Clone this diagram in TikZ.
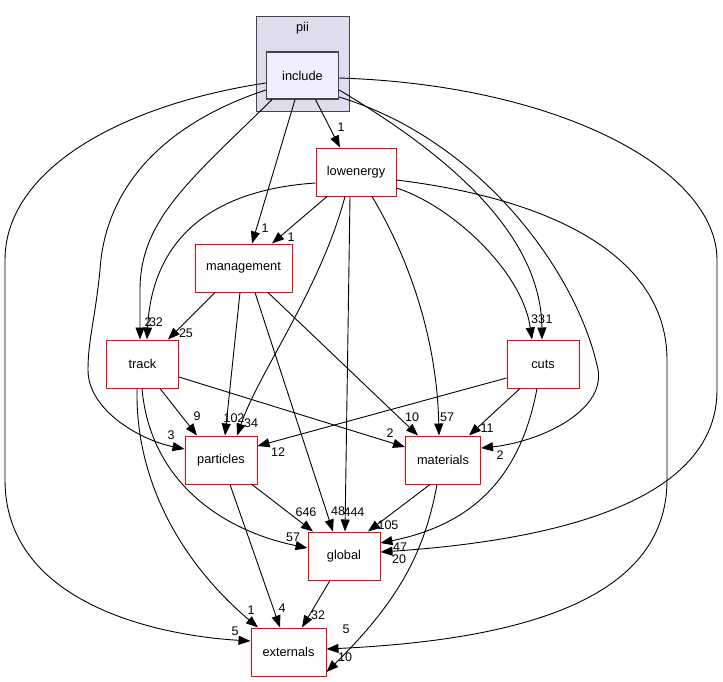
\documentclass[tikz,border=0pt]{standalone}
\usepackage{fontspec}
\setmainfont{Liberation Sans}
\usetikzlibrary{arrows.meta}
\definecolor{clusterfill}{HTML}{DDDDEE}
\definecolor{incfill}{HTML}{EEEEFF}
\definecolor{darkborder}{HTML}{444444}
\tikzset{
  dirnode/.style={draw=red, line width=1pt, fill=white, inner sep=0pt, minimum height=48pt, font=\fontsize{12.8}{15}\selectfont},
  dep/.style={draw=black, line width=0.9pt, -{Triangle[length=12pt,width=9pt]}},
  lbl/.style={inner sep=0pt, font=\fontsize{12.5}{14}\selectfont},
}
\begin{document}
\begin{tikzpicture}[x=1pt,y=-1pt]
\useasboundingbox[fill=white] (0,0) rectangle (723,681);
% cluster
\node[draw=darkborder, fill=clusterfill, line width=1pt, minimum width=93pt, minimum height=95pt, inner sep=0pt] (pii) at (302.5,63.5) {};
\node[font=\fontsize{12.8}{15}\selectfont, inner sep=0pt] (piilabel) at (302.5,28) {pii};
\node[draw=darkborder, fill=incfill, line width=1.3pt, minimum width=72pt, minimum height=47pt, inner sep=0pt, font=\fontsize{12.8}{15}\selectfont] (include) at (302.5,75.5) {include};
% nodes
\node[dirnode, minimum width=80pt] (lowenergy) at (356,172) {lowenergy};
\node[dirnode, minimum width=97pt] (management) at (243.5,268) {management};
\node[dirnode, minimum width=72pt] (track) at (142.5,364) {track};
\node[dirnode, minimum width=72pt] (cuts) at (543,364) {cuts};
\node[dirnode, minimum width=72pt] (particles) at (221,460) {particles};
\node[dirnode, minimum width=75pt] (materials) at (443,460) {materials};
\node[dirnode, minimum width=72pt] (global) at (344,556) {global};
\node[dirnode, minimum width=75pt] (externals) at (288.5,652) {externals};
% edges
\draw[dep] ([xshift=13pt]include.south) -- ([xshift=-16pt]lowenergy.north);
\draw[dep] ([xshift=-7.5pt]include.south) -- ([xshift=8.5pt]management.north);
\draw[dep] ([xshift=-29pt]lowenergy.south) -- ([xshift=28.5pt]management.north);
\draw[dep] ([xshift=-30.5pt]include.south) .. controls (190,180) and (140,220) .. (140,290) -- ([xshift=-2.5pt]track.north);
\draw[dep] ([yshift=-11pt]lowenergy.west) .. controls (210,190) and (152,240) .. ([xshift=4.5pt]track.north);
\draw[dep] ([yshift=-14.5pt]include.west) .. controls (160,125) and (105,190) .. (100,270) .. controls (95,320) and (88,340) .. (88,370) .. controls (88,410) and (140,440) .. ([yshift=11pt]particles.west);
\draw[dep] ([yshift=-7.5pt]include.west) .. controls (120,105) and (5,170) .. (5,260) -- (5,480) .. controls (5,600) and (150,635) .. ([yshift=11pt]externals.west);
\draw[dep] ([yshift=-14.5pt]include.east) .. controls (440,150) and (541,230) .. ([xshift=-1pt]cuts.north);
\draw[dep] ([yshift=-16pt]lowenergy.east) .. controls (450,205) and (522,270) .. ([xshift=-11pt]cuts.north);
\draw[dep] ([yshift=-21.5pt]include.east) .. controls (480,140) and (575,270) .. (597,365) .. controls (610,410) and (540,442) .. ([yshift=12pt]materials.east);
\draw[dep] ([yshift=-2.5pt]include.east) .. controls (560,85) and (717,170) .. (717,260) -- (717,390) .. controls (717,500) and (560,540) .. ([yshift=4pt]global.east);
\draw[dep] ([yshift=-8pt]lowenergy.east) .. controls (560,200) and (667,260) .. (667,360) -- (667,480) .. controls (667,600) and (520,640) .. ([yshift=3pt]externals.east);
\draw[dep] ([xshift=-11pt]lowenergy.south) .. controls (320,290) and (260,370) .. ([xshift=16pt]particles.north);
\draw[dep] ([xshift=-6pt]lowenergy.south) -- ([xshift=1pt]global.north);
\draw[dep] ([xshift=16pt]lowenergy.south) .. controls (410,260) and (437,340) .. ([xshift=-4pt]materials.north);
\draw[dep] ([xshift=-28.5pt]management.south) -- ([xshift=25.5pt]track.north);
\draw[dep] ([xshift=-3.5pt]management.south) -- ([xshift=4pt]particles.north);
\draw[dep] ([xshift=11.5pt]management.south) -- ([xshift=-11pt]global.north);
\draw[dep] ([xshift=24.5pt]management.south) -- ([xshift=-25pt]materials.north);
\draw[dep] ([xshift=17.5pt]track.south) -- ([xshift=-24pt]particles.north);
\draw[dep] ([yshift=-13pt]track.east) -- ([yshift=13pt]materials.west);
\draw[dep] ([xshift=-0.5pt]track.south) .. controls (150,480) and (220,530) .. ([yshift=8pt]global.west);
\draw[dep] ([xshift=-5.5pt]track.south) .. controls (135,490) and (190,570) .. ([xshift=-30.5pt]externals.north);
\draw[dep] ([yshift=-14pt]cuts.west) -- ([yshift=14pt]particles.east);
\draw[dep] ([xshift=-23pt]cuts.south) -- ([xshift=26pt]materials.north);
\draw[dep] ([xshift=-6pt]cuts.south) .. controls (520,480) and (470,525) .. ([yshift=13pt]global.east);
\draw[dep] ([xshift=31pt]particles.south) -- ([xshift=-31pt]global.north);
\draw[dep] ([xshift=9pt]particles.south) -- ([xshift=-8.5pt]externals.north);
\draw[dep] ([xshift=-13pt]materials.south) -- ([xshift=24pt]global.north);
\draw[dep] ([xshift=-6pt]materials.south) .. controls (425,550) and (400,600) .. ([yshift=-20pt]externals.east);
\draw[dep] ([xshift=-14pt]global.south) -- ([xshift=13.5pt]externals.north);
% labels
\node[lbl] (l1) at (341,127) {1};
\node[lbl] (l2) at (265,228) {1};
\node[lbl] (l3) at (291,237) {1};
\node[lbl] (l4) at (148,322) {2};
\node[lbl] (l5) at (156,322) {32};
\node[lbl] (l6) at (171,435) {3};
\node[lbl] (l7) at (235,631) {5};
\node[lbl] (l8) at (549,319) {1};
\node[lbl] (l9) at (538,319) {33};
\node[lbl] (l10) at (500,455) {2};
\node[lbl] (l11) at (399,559) {20};
\node[lbl] (l12) at (345,657) {10};
\node[lbl] (l13) at (251,423) {34};
\node[lbl] (l14) at (354,512) {444};
\node[lbl] (l15) at (447,417) {57};
\node[lbl] (l16) at (186,333) {25};
\node[lbl] (l17) at (234,418) {102};
\node[lbl] (l18) at (338,511) {48};
\node[lbl] (l19) at (412,417) {10};
\node[lbl] (l20) at (197,416) {9};
\node[lbl] (l21) at (390,433) {2};
\node[lbl] (l22) at (293,537) {57};
\node[lbl] (l23) at (251,610) {1};
\node[lbl] (l24) at (278,452) {12};
\node[lbl] (l25) at (487,428) {11};
\node[lbl] (l26) at (400,547) {47};
\node[lbl] (l27) at (306,512) {646};
\node[lbl] (l28) at (282,608) {4};
\node[lbl] (l29) at (388,525) {105};
\node[lbl] (l30) at (346,629) {5};
\node[lbl] (l31) at (318,615) {32};
\end{tikzpicture}
\end{document}
